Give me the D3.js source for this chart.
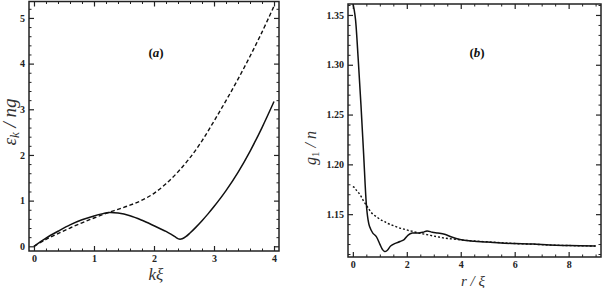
<!DOCTYPE html>
<html><head><meta charset="utf-8">
<script src="https://cdn.jsdelivr.net/npm/d3@7"></script>
<style>body{margin:0;background:#fff}svg{display:block}</style>
</head><body>
<svg id="c" width="602" height="288"></svg>
<script>
// Panel (a): excitation spectrum
const aKSolid  = [0, 0.2, 0.4, 0.6, 0.8, 1.0, 1.15, 1.25, 1.4, 1.6, 1.8, 2.0, 2.2, 2.3, 2.37, 2.42, 2.47, 2.53, 2.6, 2.7, 2.8, 2.9, 3.0, 3.2, 3.4, 3.6, 3.8, 4.0];
const aSolid   = [0, 0.18, 0.33, 0.47, 0.58, 0.665, 0.715, 0.74, 0.728, 0.67, 0.57, 0.45, 0.325, 0.25, 0.192, 0.158, 0.165, 0.21, 0.29, 0.42, 0.56, 0.71, 0.87, 1.22, 1.62, 2.08, 2.6, 3.17];
const aKDashed = [0, 0.2, 0.4, 0.6, 0.8, 1.0, 1.2, 1.4, 1.6, 1.8, 2.0, 2.2, 2.4, 2.6, 2.8, 3.0, 3.2, 3.4, 3.6, 3.8, 4.0];
const aDashed  = [0, 0.15, 0.28, 0.40, 0.515, 0.62, 0.72, 0.81, 0.90, 1.01, 1.16, 1.37, 1.63, 1.94, 2.31, 2.74, 3.19, 3.66, 4.16, 4.69, 5.26];
const aXTicks = [0, 1, 2, 3, 4];
const aYTicks = [0, 1, 2, 3, 4, 5];

// Panel (b): one-body density matrix
const bR      = [0, 0.05, 0.1, 0.2, 0.3, 0.4, 0.5, 0.56, 0.62, 0.74, 0.87, 1.0, 1.1, 1.18, 1.27, 1.4, 1.55, 1.75, 1.9, 2.05, 2.2, 2.45, 2.6, 2.75, 2.95, 3.15, 3.4, 3.66, 3.97, 4.2, 4.5, 5.0, 5.5, 6.0, 6.7, 7.3, 8.0, 9.0];
const bSolid  = [1.362, 1.355, 1.345, 1.305, 1.26, 1.21, 1.16, 1.145, 1.1375, 1.131, 1.1275, 1.12, 1.1145, 1.1125, 1.1135, 1.118, 1.1205, 1.1225, 1.1245, 1.129, 1.131, 1.1312, 1.1318, 1.1332, 1.1318, 1.131, 1.1298, 1.127, 1.1245, 1.1235, 1.1228, 1.122, 1.121, 1.1205, 1.12, 1.119, 1.1185, 1.118];
const bDashed = [1.1775, 1.177, 1.175, 1.172, 1.168, 1.163, 1.159, 1.1565, 1.154, 1.150, 1.1475, 1.145, 1.1435, 1.1425, 1.141, 1.1395, 1.138, 1.136, 1.135, 1.1338, 1.1328, 1.131, 1.1302, 1.1294, 1.1283, 1.1272, 1.126, 1.1252, 1.1243, 1.1237, 1.123, 1.1222, 1.1213, 1.1205, 1.1198, 1.119, 1.1185, 1.118];
const bXTicks = [0, 2, 4, 6, 8];
const bYTicks = [1.15, 1.20, 1.25, 1.30, 1.35];

const svg = d3.select("#c");
const serif = "'Liberation Serif','Times New Roman',serif";

function panel(o) {
  const g = svg.append("g");
  const x = d3.scaleLinear().domain(o.xd).range([o.x0, o.x1]);
  const y = d3.scaleLinear().domain(o.yd).range([o.y1, o.y0]);
  const id = "clip" + o.name;
  g.append("clipPath").attr("id", id).append("rect")
    .attr("x", o.x0).attr("y", o.y0).attr("width", o.x1 - o.x0).attr("height", o.y1 - o.y0);

  const minorX = d3.range(0, o.xd[1], o.xm)
    .map(v => +v.toFixed(4)).filter(v => v >= o.xd[0] && v <= o.xd[1]);
  const minorY = d3.range(Math.ceil(o.yd[0] / o.ym) * o.ym, o.yd[1], o.ym)
    .map(v => +v.toFixed(4)).filter(v => v >= o.yd[0] && v <= o.yd[1]);
  const isMajor = (v, arr) => arr.some(t => Math.abs(t - v) < 1e-6);

  const defs = [
    ["b", `translate(0,${o.y1})`, minorX, o.xt, true],
    ["t", `translate(0,${o.y0})`, minorX, o.xt, false],
    ["l", `translate(${o.x0},0)`, minorY, o.yt, true],
    ["r", `translate(${o.x1},0)`, minorY, o.yt, false]
  ];
  const mk = k => k === "b" ? d3.axisBottom(x) : k === "t" ? d3.axisTop(x) : k === "l" ? d3.axisLeft(y) : d3.axisRight(y);
  defs.forEach(([k, tr, minor, major]) => {
    g.append("g").attr("transform", tr)
      .call(mk(k).tickValues(minor.filter(v => !isMajor(v, major))).tickSizeInner(-2.5).tickSizeOuter(0).tickFormat(""))
      .call(s => s.select(".domain").remove())
      .selectAll("line").attr("stroke", "#222").attr("stroke-width", 1);
  });
  defs.forEach(([k, tr, minor, major, lab]) => {
    const gg = g.append("g").attr("transform", tr)
      .call(mk(k).tickValues(major).tickSizeInner(-5).tickSizeOuter(0).tickPadding(4)
        .tickFormat(lab ? o.fmt(k === "b") : ""));
    gg.select(".domain").remove();
    gg.selectAll("line").attr("stroke", "#222").attr("stroke-width", 1.2);
    gg.selectAll("text").attr("font-family", serif).attr("font-weight", "bold")
      .attr("font-size", 10).attr("fill", "#222");
  });

  const line = (xs, ys) => d3.line().curve(d3.curveCatmullRom.alpha(0.5))
    .x((d, i) => x(xs[i])).y((d, i) => y(ys[i]))(ys);
  g.append("path").attr("clip-path", `url(#${id})`).attr("d", line(o.xd2, o.dash))
    .attr("fill", "none").attr("stroke", "#111").attr("stroke-width", 1.4).attr("stroke-dasharray", o.dashArr);
  g.append("path").attr("clip-path", `url(#${id})`).attr("d", line(o.xs, o.solid))
    .attr("fill", "none").attr("stroke", "#111").attr("stroke-width", 1.5);

  g.append("rect").attr("x", o.x0).attr("y", o.y0).attr("width", o.x1 - o.x0).attr("height", o.y1 - o.y0)
    .attr("fill", "none").attr("stroke", "#222").attr("stroke-width", 1.5);
  return g;
}

panel({
  name: "a", x0: 29, x1: 279, y0: 1.5, y1: 251,
  xd: [-0.083, 4.083], yd: [-0.103, 5.36], xm: 0.2, ym: 0.2,
  xt: aXTicks, yt: aYTicks, xs: aKSolid, solid: aSolid, xd2: aKDashed, dash: aDashed, dashArr: "4,2.5",
  fmt: () => d3.format("d")
});
panel({
  name: "b", x0: 348, x1: 601, y0: 4, y1: 257,
  xd: [-0.18, 9.2], yd: [1.107, 1.361], xm: 0.5, ym: 0.01,
  xt: bXTicks, yt: bYTicks, xs: bR, solid: bSolid, xd2: bR, dash: bDashed, dashArr: "2,2",
  fmt: isX => isX ? d3.format("d") : d3.format(".2f")
});

// panel labels
function plabel(cx, cy, letter) {
  const t = svg.append("text").attr("x", cx).attr("y", cy).attr("text-anchor", "middle")
    .attr("font-family", serif).attr("font-weight", "bold").attr("font-size", 13).attr("fill", "#111");
  t.append("tspan").text("(");
  t.append("tspan").attr("font-style", "italic").text(letter);
  t.append("tspan").text(")");
}
plabel(156, 57, "a");
plabel(477, 57, "b");

// axis titles
svg.append("text").attr("x", 156).attr("y", 280).attr("text-anchor", "middle")
  .attr("font-family", serif).attr("font-style", "italic").attr("font-size", 17).attr("fill", "#333").text("kξ");
const ya = svg.append("text").attr("transform", "translate(16,122) rotate(-90)").attr("text-anchor", "middle")
  .attr("font-family", serif).attr("font-style", "italic").attr("font-size", 19).attr("fill", "#333");
ya.append("tspan").text("ε");
ya.append("tspan").attr("font-size", 13).attr("dy", 3).text("k");
ya.append("tspan").attr("dy", -3).text(" / ng");

svg.append("text").attr("x", 473).attr("y", 286).attr("text-anchor", "middle")
  .attr("font-family", serif).attr("font-style", "italic").attr("font-size", 15).attr("fill", "#333").text("r / ξ");
const yb = svg.append("text").attr("transform", "translate(316,148) rotate(-90)").attr("text-anchor", "middle")
  .attr("font-family", serif).attr("font-style", "italic").attr("font-size", 16).attr("fill", "#333");
yb.append("tspan").text("g");
yb.append("tspan").attr("font-size", 11).attr("dy", 3).attr("font-style", "normal").text("1");
yb.append("tspan").attr("dy", -3).text(" / n");
</script>
</body></html>
